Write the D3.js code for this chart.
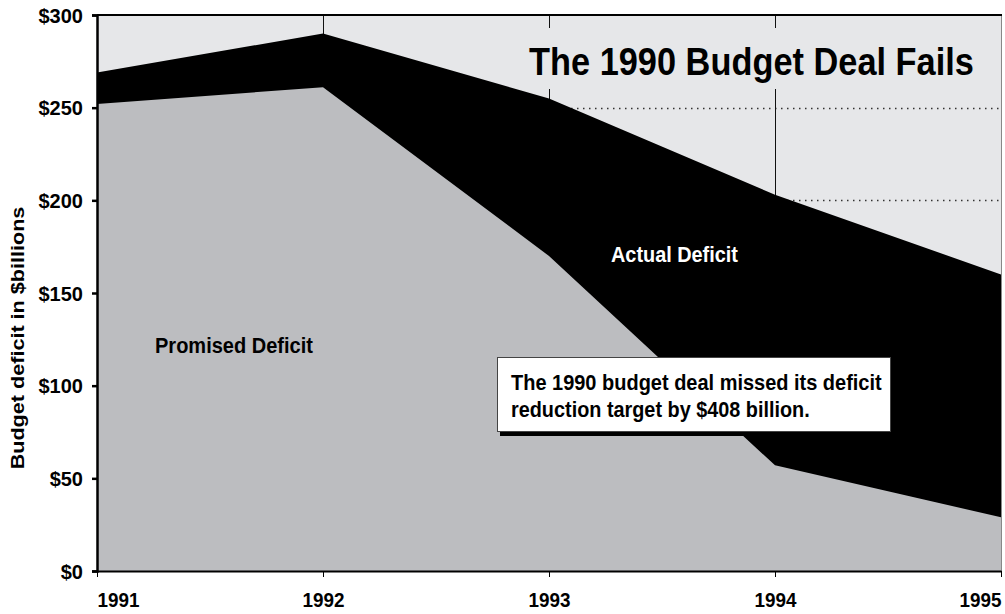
<!DOCTYPE html>
<html>
<head>
<meta charset="utf-8">
<script src="https://cdn.jsdelivr.net/npm/d3@7"></script>
<style>
  html, body { margin: 0; padding: 0; background: #ffffff; }
  svg { display: block; }
  text { font-family: "Liberation Sans", Arial, sans-serif; font-weight: bold; }
</style>
</head>
<body>
<svg id="chart" width="1005" height="614"></svg>
<script>
// Federal deficit, $ billions
const years = [1991, 1992, 1993, 1994, 1995];
const promisedDeficit = [252, 261, 170, 57, 29];
const actualDeficit = [269, 290, 255, 203, 160];
const yTicks = [0, 50, 100, 150, 200, 250, 300];

const titleText = "The 1990 Budget Deal Fails";
const noteLines = ["The 1990 budget deal missed its deficit", "reduction target by $408 billion."];
const yAxisTitle = "Budget deficit in $billions";

const svg = d3.select("#chart");
const plotL = 97, plotR = 1001, plotT = 15, plotB = 571;

const x = d3.scaleLinear().domain([1991, 1995]).range([plotL, plotR]);
const y = d3.scaleLinear().domain([0, 300]).range([plotB, plotT]);

const rows = years.map((yr, i) => ({ year: yr, promised: promisedDeficit[i], actual: actualDeficit[i] }));

// condensed lettering: squeeze a bold face horizontally to a given width.
// The text's own x/y become a translate so the squeeze happens about its anchor.
function condense(sel, width, extra) {
  sel.each(function () {
    const t = d3.select(this);
    const w = this.getComputedTextLength();
    const k = w > 0 ? width / w : 1;
    const tx = +t.attr("x") || 0, ty = +t.attr("y") || 0;
    t.attr("x", 0).attr("y", 0)
     .attr("transform", `translate(${tx},${ty})${extra || ""} scale(${k},1)`);
  });
  return sel;
}

// plot background
svg.append("rect")
  .attr("x", plotL).attr("y", plotT)
  .attr("width", plotR - plotL + 1).attr("height", plotB - plotT)
  .attr("fill", "#e6e7e9");

// dotted horizontal gridlines
svg.append("g").selectAll("line")
  .data(yTicks.filter(d => d > 0 && d < 300))
  .join("line")
  .attr("x1", plotL).attr("x2", plotR + 1)
  .attr("y1", d => Math.round(y(d)) + 0.5).attr("y2", d => Math.round(y(d)) + 0.5)
  .attr("stroke", "#333").attr("stroke-width", 1.5)
  .attr("stroke-dasharray", "1.5,4.5");

// vertical gridlines
svg.append("g").selectAll("line")
  .data(years.slice(1))
  .join("line")
  .attr("x1", d => Math.round(x(d)) + 0.5).attr("x2", d => Math.round(x(d)) + 0.5)
  .attr("y1", plotT).attr("y2", plotB)
  .attr("stroke", d => d === 1995 ? "#888" : "#111").attr("stroke-width", 1);

// title panel
svg.append("rect")
  .attr("x", 518).attr("y", 28).attr("width", 470).attr("height", 61)
  .attr("fill", "#e6e7e9");
svg.append("text")
  .attr("x", 529).attr("y", 75)
  .attr("font-size", 39)
  .attr("fill", "#000")
  .text(titleText)
  .call(condense, 445);

// areas
const actualArea = d3.area().x(d => x(d.year)).y0(y(0)).y1(d => y(d.actual));
const promisedArea = d3.area().x(d => x(d.year)).y0(y(0)).y1(d => y(d.promised));

svg.append("path").datum(rows).attr("d", actualArea).attr("fill", "#000");
svg.append("path").datum(rows).attr("d", promisedArea).attr("fill", "#bcbdc0");

// top border
svg.append("line")
  .attr("x1", plotL).attr("x2", plotR + 1)
  .attr("y1", plotT).attr("y2", plotT)
  .attr("stroke", "#000").attr("stroke-width", 2);

// y axis
const yAxis = svg.append("g")
  .attr("transform", `translate(${plotL},0)`)
  .call(d3.axisLeft(y).tickValues(yTicks).tickFormat(d => "$" + d).tickSize(5).tickPadding(9));
yAxis.select(".domain").attr("stroke", "#000").attr("stroke-width", 2.5);
yAxis.selectAll(".tick line").attr("stroke", "#000").attr("stroke-width", 2.5);
yAxis.selectAll(".tick text")
  .attr("font-size", 20).attr("font-family", null).attr("fill", "#000")
  .attr("dy", "0.36em");

// x axis
const xAxis = svg.append("g")
  .attr("transform", `translate(0,${plotB})`)
  .call(d3.axisBottom(x).tickValues(years).tickFormat(d3.format("d")).tickSize(6).tickSizeOuter(0));
xAxis.select(".domain").attr("stroke", "#000").attr("stroke-width", 2);
xAxis.selectAll(".tick line").attr("stroke", "#000").attr("stroke-width", 1);
xAxis.selectAll(".tick text")
  .attr("font-size", 21).attr("font-family", null).attr("fill", "#000")
  .attr("y", 36).attr("dy", 0)
  .attr("text-anchor", (d, i) => i === 0 ? "start" : (i === years.length - 1 ? "end" : "middle"))
  .call(condense, 42);

// y axis title
svg.append("text")
  .attr("x", 24).attr("y", 338)
  .attr("text-anchor", "middle")
  .attr("font-size", 19)
  .attr("fill", "#000")
  .text(yAxisTitle)
  .call(condense, 263, " rotate(-90)");

// series labels
svg.append("text")
  .attr("x", 155).attr("y", 353)
  .attr("font-size", 22).attr("fill", "#000")
  .text("Promised Deficit")
  .call(condense, 158);
svg.append("text")
  .attr("x", 611).attr("y", 262)
  .attr("font-size", 22).attr("fill", "#fff")
  .text("Actual Deficit")
  .call(condense, 127);

// note box with drop shadow
svg.append("rect")
  .attr("x", 500).attr("y", 361).attr("width", 394).attr("height", 75)
  .attr("fill", "#000");
svg.append("rect")
  .attr("x", 497.5).attr("y", 357.5).attr("width", 393).attr("height", 74)
  .attr("fill", "#fff").attr("stroke", "#444").attr("stroke-width", 1);
const noteWidths = [371, 299];
svg.append("g").selectAll("text")
  .data(noteLines)
  .join("text")
  .attr("x", 511).attr("y", (d, i) => 390 + i * 27)
  .attr("font-size", 22).attr("fill", "#000")
  .text(d => d)
  .each(function (d, i) { d3.select(this).call(condense, noteWidths[i]); });
</script>
</body>
</html>
